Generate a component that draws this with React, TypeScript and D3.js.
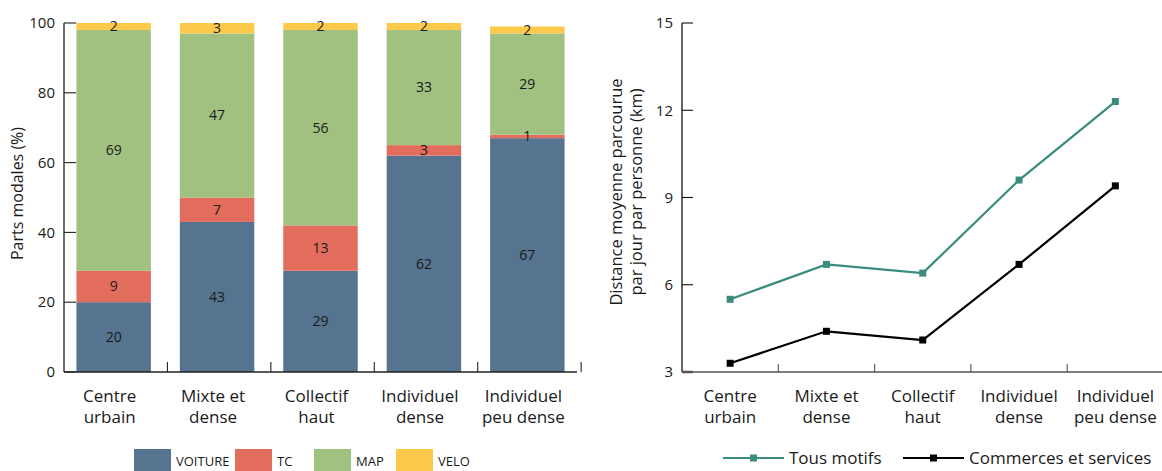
import React from 'react';
import * as d3 from 'd3';

const categories: string[][] = [
  ['Centre', 'urbain'],
  ['Mixte et', 'dense'],
  ['Collectif', 'haut'],
  ['Individuel', 'dense'],
  ['Individuel', 'peu dense'],
];
const voiture = [20, 43, 29, 62, 67];
const tc = [9, 7, 13, 3, 1];
const mapShare = [69, 47, 56, 33, 29];
const velo = [2, 3, 2, 2, 2];
const modeKeys = ['VOITURE', 'TC', 'MAP', 'VELO'];
const modeColors = ['#56738f', '#e26d5c', '#a1c181', '#fcc94a'];
const barTicks = [0, 20, 40, 60, 80, 100];

const tousMotifs = [5.5, 6.7, 6.4, 9.6, 12.3];
const commerces = [3.3, 4.4, 4.1, 6.7, 9.4];
const lineSeries = ['Tous motifs', 'Commerces et services'];
const lineColors = ['#3a8c7e', '#000000'];
const lineTicks = [3, 6, 9, 12, 15];

const FONT = "'Open Sans', sans-serif";

export default function App() {
  const idx = categories.map((_, i) => i);
  // ---------- Bar chart ----------
  const bx = d3.scaleBand<number>().domain(idx).range([64, 577]).paddingInner(0.28).paddingOuter(0.12);
  const by = d3.scaleLinear().domain([0, 100]).range([372, 23]);
  const rows = idx.map((i) => ({ VOITURE: voiture[i], TC: tc[i], MAP: mapShare[i], VELO: velo[i], i }));
  const stacked = d3.stack<any>().keys(modeKeys)(rows as any);

  // ---------- Line chart ----------
  const lx = d3.scaleBand<number>().domain(idx).range([682, 1163.5]).padding(0);
  const ly = d3.scaleLinear().domain([3, 15]).range([372, 23]);
  const lineGen = d3
    .line<number>()
    .x((_, i) => (lx(i) as number) + lx.bandwidth() / 2)
    .y((d) => ly(d));
  const seriesData = [tousMotifs, commerces];

  const legendX = [134, 235, 314, 396];

  return (
    <div style={{ position: 'absolute', left: 0, top: 0 }}>
      <svg width={1162} height={471} style={{ display: 'block', fontFamily: FONT }}>
        <rect width={1162} height={471} fill="#fff" />
        {/* Bars */}
        {stacked.map((layer, k) => (
          <g key={modeKeys[k]}>
            {layer.map((d: any, i: number) => (
              <rect
                key={i}
                x={bx(i)}
                width={bx.bandwidth()}
                y={by(d[1])}
                height={by(d[0]) - by(d[1])}
                fill={modeColors[k]}
              />
            ))}
          </g>
        ))}
        {stacked.map((layer, k) => (
          <g key={'lab' + modeKeys[k]}>
            {layer.map((d: any, i: number) => (
              <text
                key={i}
                x={(bx(i) as number) + bx.bandwidth() / 2}
                y={by((d[0] + d[1]) / 2)}
                dy="0.35em"
                textAnchor="middle"
                fontSize={14}
                fill="#1a1a1a"
              >
                {d[1] - d[0]}
              </text>
            ))}
          </g>
        ))}
        {/* Bar axes */}
        <line x1={64} x2={64} y1={by(100)} y2={by(0)} stroke="#222" strokeWidth={1.3} />
        <line x1={64} x2={577} y1={by(0)} y2={by(0)} stroke="#222" strokeWidth={1.3} />
        {barTicks.map((t) => (
          <g key={t}>
            <line x1={64} x2={76} y1={by(t)} y2={by(t)} stroke="#222" strokeWidth={1.1} />
            <text x={55} y={by(t)} dy="0.35em" textAnchor="end" fontSize={15} fill="#1a1a1a">
              {t}
            </text>
          </g>
        ))}
        {idx.slice(1).concat([5]).map((i) => {
          const xx = 64 + i * bx.step();
          return <line key={i} x1={xx} x2={xx} y1={by(0)} y2={by(0) - 10} stroke="#222" strokeWidth={1.1} />;
        })}
        {categories.map((c, i) => (
          <text key={i} x={(bx(i) as number) + bx.bandwidth() / 2 - 4} textAnchor="middle" fontSize={17} fill="#1a1a1a">
            <tspan x={(bx(i) as number) + bx.bandwidth() / 2 - 4} y={402}>{c[0]}</tspan>
            <tspan x={(bx(i) as number) + bx.bandwidth() / 2 - 4} y={423}>{c[1]}</tspan>
          </text>
        ))}
        <text transform={`translate(23,${(by(0) + by(100)) / 2 - 4}) rotate(-90)`} textAnchor="middle" fontSize={16} fill="#1a1a1a">
          Parts modales (%)
        </text>
        {/* Bar legend */}
        {modeKeys.map((k, i) => (
          <g key={k}>
            <rect x={legendX[i]} y={449} width={37} height={24} fill={modeColors[i]} />
            <text x={legendX[i] + 42} y={466} fontSize={13} fill="#1a1a1a">
              {k}
            </text>
          </g>
        ))}

        {/* Line chart axes */}
        <line x1={682} x2={682} y1={ly(15)} y2={ly(3)} stroke="#111" strokeWidth={1.3} />
        <line x1={682} x2={1162} y1={ly(3)} y2={ly(3)} stroke="#555" strokeWidth={1.5} />
        {lineTicks.map((t) => (
          <g key={t}>
            <line x1={682} x2={693} y1={ly(t)} y2={ly(t)} stroke={t === 3 ? '#555' : '#111'} strokeWidth={t === 3 ? 2.5 : 1.1} />
            <text x={673} y={ly(t)} dy="0.35em" textAnchor="end" fontSize={15} fill="#1a1a1a">
              {t}
            </text>
          </g>
        ))}
        {idx.slice(1).map((i) => (
          <line key={i} x1={lx(i)} x2={lx(i)} y1={ly(3)} y2={ly(3) - 8} stroke="#555" strokeWidth={1.1} />
        ))}
        {categories.map((c, i) => {
          const cx = (lx(i) as number) + lx.bandwidth() / 2;
          return (
            <text key={i} textAnchor="middle" fontSize={17} fill="#1a1a1a">
              <tspan x={cx} y={402}>{c[0]}</tspan>
              <tspan x={cx} y={423}>{c[1]}</tspan>
            </text>
          );
        })}
        <text transform={`translate(622,192) rotate(-90)`} textAnchor="middle" fontSize={16.5} fill="#1a1a1a">
          Distance moyenne parcourue
        </text>
        <text transform={`translate(642,192) rotate(-90)`} textAnchor="middle" fontSize={16.5} fill="#1a1a1a">
          par jour par personne (km)
        </text>
        {/* Lines */}
        {seriesData.map((s, k) => (
          <g key={k}>
            <path d={lineGen(s) as string} fill="none" stroke={lineColors[k]} strokeWidth={2.2} />
            {s.map((v, i) => (
              <rect
                key={i}
                x={(lx(i) as number) + lx.bandwidth() / 2 - 3.5}
                y={ly(v) - 3.5}
                width={7}
                height={7}
                fill={lineColors[k]}
              />
            ))}
          </g>
        ))}
        {/* Line legend */}
        {lineSeries.map((n, k) => {
          const x0 = k === 0 ? 723 : 903;
          return (
            <g key={n}>
              <line x1={x0} x2={x0 + 61} y1={458} y2={458} stroke={lineColors[k]} strokeWidth={2.2} />
              <rect x={x0 + 27} y={454.5} width={7} height={7} fill={lineColors[k]} />
              <text x={x0 + 66} y={464} fontSize={17} fill="#1a1a1a">
                {n}
              </text>
            </g>
          );
        })}
      </svg>
    </div>
  );
}
